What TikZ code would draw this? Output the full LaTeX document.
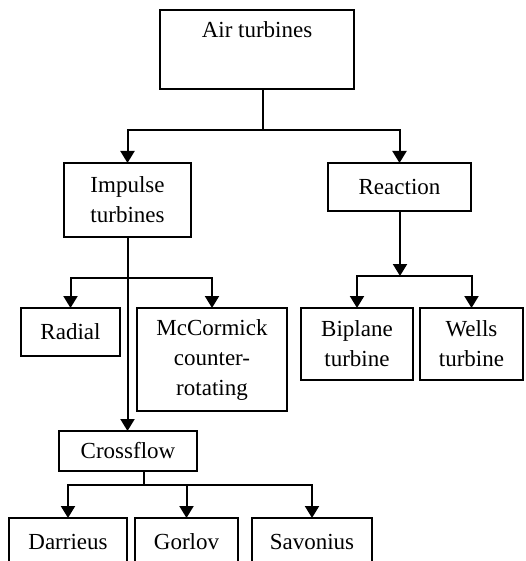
\documentclass[tikz,border=0pt]{standalone}
\usepackage{fontspec}
\setmainfont{Liberation Serif}
\usetikzlibrary{arrows.meta}
\begin{document}
\begin{tikzpicture}[x=1pt,y=-1pt,
  box/.style={draw=black,line width=2pt,inner sep=0pt,outer sep=0pt,align=center,
    font=\fontsize{23}{30}\selectfont},
  conn/.style={line width=2pt,draw=black},
  arr/.style={conn,-{Triangle[length=12pt,width=14pt]}}]
\useasboundingbox (0,0) rectangle (526,561);
\clip (0,0) rectangle (526,561);
\node[box,minimum width=194pt,minimum height=79pt] (air) at (257,49.5) {Air turbines\\\strut};
\node[box,minimum width=127pt,minimum height=74pt] (imp) at (127.5,200) {Impulse\\turbines};
\node[box,minimum width=143pt,minimum height=48pt] (reac) at (399.5,187) {Reaction};
\node[box,minimum width=99pt,minimum height=48pt] (radial) at (70.5,332) {Radial};
\node[box,minimum width=150pt,minimum height=103pt] (mcc) at (212,359.5) {McCormick\\counter-\\rotating};
\node[box,minimum width=112pt,minimum height=72pt] (bip) at (357,344) {Biplane\\turbine};
\node[box,minimum width=103pt,minimum height=72pt] (wells) at (471.5,344) {Wells\\turbine};
\node[box,minimum width=138pt,minimum height=40pt] (cross) at (128,451) {Crossflow};
\node[box,minimum width=118pt,minimum height=48pt] (darr) at (68,542) {Darrieus};
\node[box,minimum width=103pt,minimum height=48pt] (gorlov) at (186.5,542) {Gorlov};
\node[box,minimum width=120pt,minimum height=48pt] (savon) at (312,542) {Savonius};
\coordinate (j1) at (263,130);
\coordinate (j2) at (129,278);
\coordinate (j3) at (400,276);
\coordinate (j4) at (144,485);
\draw[conn] (j1 |- air.south) -- (j1);
\draw[arr] (j1) -| (imp.north);
\draw[arr] (j1) -| (reac.north);
\draw[arr] (imp.south) -- (imp.south |- cross.north);
\draw[arr] (j2) -| (radial.north);
\draw[arr] (j2) -| (mcc.north);
\draw[arr] (j3 |- reac.south) -- (j3);
\draw[arr] (j3) -| (bip.north);
\draw[arr] (j3) -| (wells.north);
\draw[conn] (j4 |- cross.south) -- (j4);
\draw[arr] (j4) -| (darr.north);
\draw[arr] (j4) -| (gorlov.north);
\draw[arr] (j4) -| (savon.north);
\end{tikzpicture}
\end{document}
